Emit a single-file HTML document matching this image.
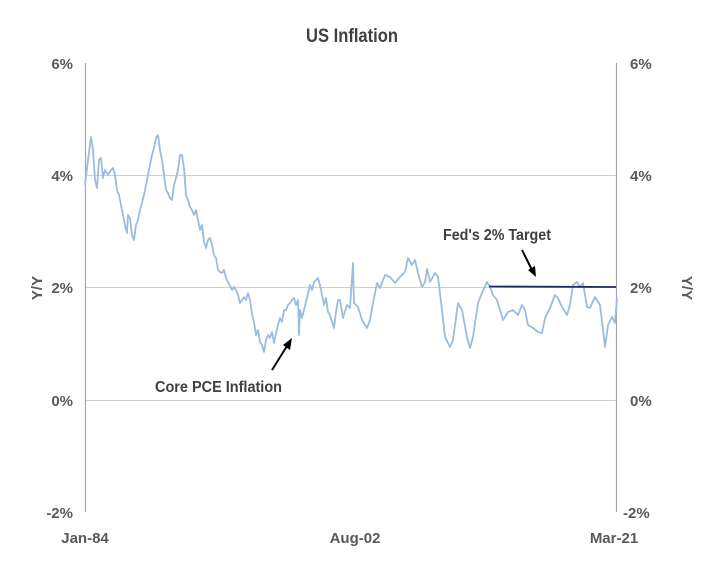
<!DOCTYPE html><html><head><style>body{margin:0;background:#fff}svg{display:block;font-family:"Liberation Sans",sans-serif}</style></head><body>
<svg width="704" height="561" viewBox="0 0 704 561">
<text x="352" y="42" text-anchor="middle" font-size="19" fill="#404040" font-weight="bold" textLength="92" lengthAdjust="spacingAndGlyphs">US Inflation</text>
<g stroke="#d0d0d0" stroke-width="1">
<line x1="85" y1="175.5" x2="616" y2="175.5"/><line x1="85" y1="287.5" x2="616" y2="287.5"/><line x1="85" y1="400.5" x2="616" y2="400.5"/>
</g>
<g stroke="#a6a6a6" stroke-width="1.2"><line x1="85.5" y1="63" x2="85.5" y2="512"/><line x1="616.5" y1="63" x2="616.5" y2="512"/></g>
<g fill="#595959" font-size="15" font-weight="bold">
<g text-anchor="end"><text x="73" y="69">6%</text><text x="73" y="181">4%</text><text x="73" y="293">2%</text><text x="73" y="406">0%</text><text x="73" y="518">-2%</text></g>
<g text-anchor="start"><text x="630" y="69">6%</text><text x="630" y="181">4%</text><text x="630" y="293">2%</text><text x="630" y="406">0%</text><text x="623" y="518">-2%</text></g>
<text x="85" y="543" text-anchor="middle">Jan-84</text><text x="355" y="543" text-anchor="middle">Aug-02</text><text x="614" y="543" text-anchor="middle">Mar-21</text>
<text transform="translate(42,288) rotate(-90)" text-anchor="middle">Y/Y</text>
<text transform="translate(682,288) rotate(90)" text-anchor="middle">Y/Y</text>
<text x="155" y="392" fill="#404040" font-size="16" textLength="127" lengthAdjust="spacingAndGlyphs">Core PCE Inflation</text>
<text x="443" y="240" fill="#404040" font-size="16" textLength="108" lengthAdjust="spacingAndGlyphs">Fed's 2% Target</text>
</g>
<polyline fill="none" stroke="#9dbbdc" stroke-width="1.8" stroke-linejoin="round" points="85,185 88,160 91,137 93,150 95,180 97,188 99,160 101,158 103,178 105,170 108,175 111,170 113,168 115,175 117,190 119,195 121,205 123,215 125,225 127,233 128,215 130,218 132,235 134,240 136,225 138,220 140,210 142,203 144,195 146,185 148,175 150,165 152,155 154,148 156,138 158,135 160,150 162,160 164,175 166,190 168,193 170,198 172,200 174,185 176,178 178,170 180,155 182,155 184,168 186,195 188,200 190,207 192,210 194,215 196,210 198,220 200,230 202,225 204,242 206,248 208,240 210,238 212,245 214,255 216,258 218,270 220,272 222,273 224,270 226,278 228,282 230,286 232,290 234,287 236,290 238,295 240,303 242,300 244,297 246,300 248,293 250,300 252,314 254,322 256,335 258,330 260,342 262,345 264,352 266,340 268,335 270,338 272,332 274,343 276,333 278,325 280,318 282,322 284,310 286,310 288,305 290,303 292,300 294,298 296,305 298,300 299,335 300,310 302,318 304,310 306,302 308,293 310,285 312,290 314,282 316,280 318,278 320,285 322,295 324,305 326,298 328,312 330,315 332,322 334,328 336,312 338,300 340,300 343,318 347,305 350,308 353,263 354,303 358,307 362,320 367,328 370,320 373,303 377,283 380,288 385,275 390,277 395,283 400,277 405,272 408,258 412,265 415,260 418,273 422,287 425,282 427,269 430,282 435,273 438,277 442,310 445,337 450,347 453,340 458,303 462,310 467,337 470,348 473,337 478,303 482,293 487,282 490,287 493,295 497,300 503,320 508,312 513,310 518,315 522,305 525,310 528,325 533,328 538,332 542,333 545,318 550,308 555,295 558,298 562,307 567,315 570,305 573,285 577,282 580,287 583,283 587,307 590,308 595,297 600,305 603,330 605,347 608,325 612,317 615,323 617,298"/>
<line x1="489" y1="286.5" x2="616" y2="287" stroke="#1f2d5a" stroke-width="1.8"/>
<g stroke="#000" stroke-width="2"><line x1="272" y1="370" x2="287" y2="346"/><line x1="522" y1="250" x2="532" y2="270"/></g>
<polygon points="292,338 290,350 283,345" fill="#000"/>
<polygon points="536,277 528,270 535,266" fill="#000"/>
</svg></body></html>
